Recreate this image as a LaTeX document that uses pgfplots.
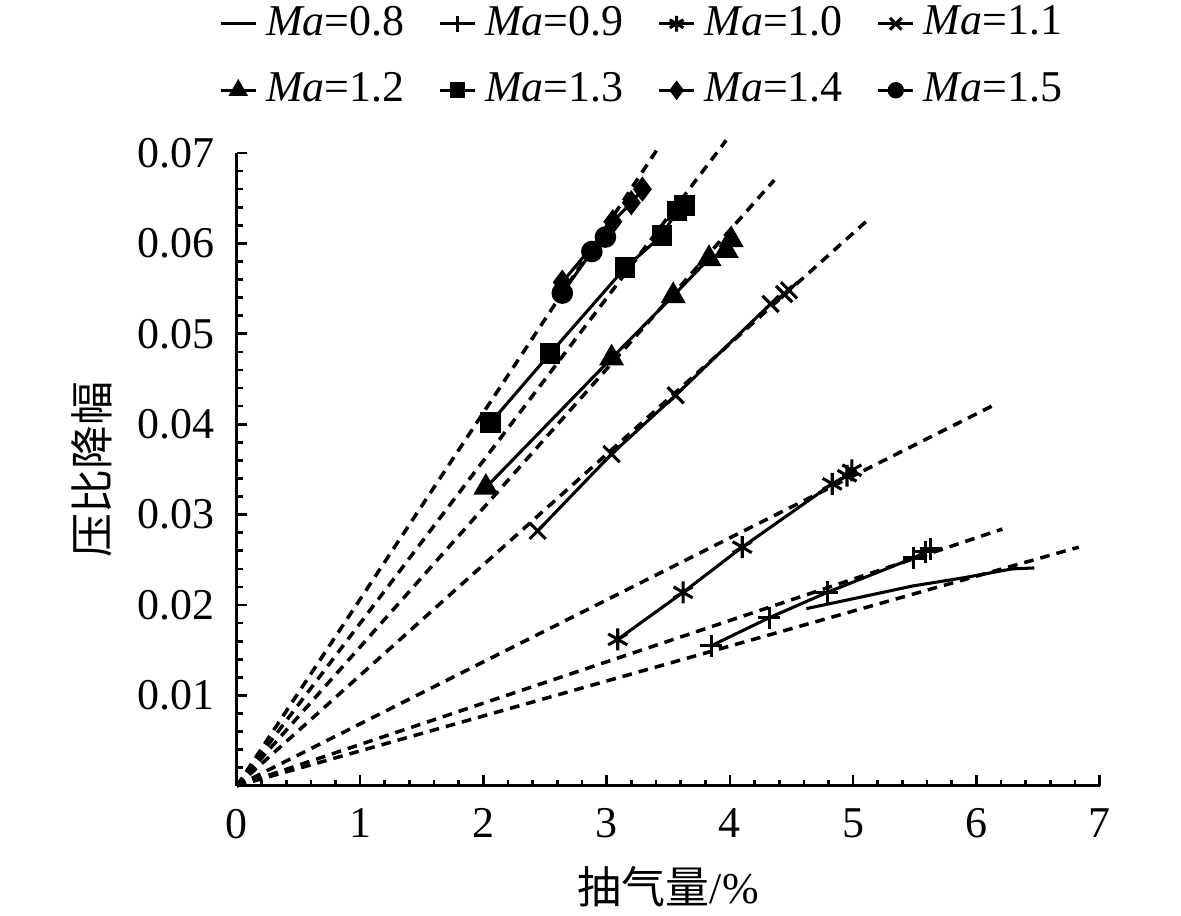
\documentclass[border=0pt]{standalone}
\usepackage{fontspec}
\setmainfont{Liberation Serif}
\newfontfamily\cjk{Noto Sans CJK SC}
\usepackage{pgfplots}
\pgfplotsset{compat=1.18}
\begin{document}
\begin{tikzpicture}
\begin{axis}[
  scale only axis, width=196.3pt, height=144pt,
  xmin=0, xmax=7, ymin=0, ymax=0.07,
  axis lines=left, axis line style={-, line width=0.7pt},
  clip=false,
  scaled y ticks=false,
  xtick={0,1,2,3,4,5,6,7}, minor x tick num=4,
  ytick={0,0.01,0.02,0.03,0.04,0.05,0.06,0.07},
  yticklabels={,0.01,0.02,0.03,0.04,0.05,0.06,0.07},
  minor y tick num=4,
  tick align=inside, major tick length=2.4pt, minor tick length=1.4pt,
  tick style={line width=0.6pt, black},
  /pgf/number format/assume math mode=true,
  xticklabel style={yshift=-1.7pt},
  yticklabel style={xshift=-1.5pt},
  xlabel={{\cjk 抽气量}/\%}, ylabel={\cjk 压比降幅},
  every axis x label/.style={at={(axis description cs:0.5,-0.16)}, anchor=center},
  every axis y label/.style={at={(axis description cs:-0.168,0.5)}, anchor=center, rotate=90},
  legend columns=4,
  legend style={draw=none, fill=none, at={(axis description cs:0.473,1)}, anchor=south, yshift=8pt,
    /tikz/every even column/.append style={column sep=5.7pt}, /tikz/row sep=3pt,
    inner sep=0pt},
  legend cell align=left,
  legend image code/.code={\draw[mark repeat=2,mark phase=2,mark options={scale=0.72,fill=black}] plot coordinates {(0pt,0pt) (4pt,0pt) (8pt,0pt)};},
  every axis plot/.append style={line width=0.7pt, black},
]
% fitted dashed lines
\addplot[dashed, dash pattern=on 2.2pt off 1.6pt, line width=0.8pt, forget plot] coordinates {(0,0) (3.42,0.0706)};
\addplot[dashed, dash pattern=on 2.2pt off 1.6pt, line width=0.8pt, forget plot] coordinates {(0,0) (3.97,0.0714)};
\addplot[dashed, dash pattern=on 2.2pt off 1.6pt, line width=0.8pt, forget plot] coordinates {(0,0) (4.36,0.0670)};
\addplot[dashed, dash pattern=on 2.2pt off 1.6pt, line width=0.8pt, forget plot] coordinates {(0,0) (5.12,0.0626)};
\addplot[dashed, dash pattern=on 2.2pt off 1.6pt, line width=0.8pt, forget plot] coordinates {(0,0) (6.14,0.0421)};
\addplot[dashed, dash pattern=on 2.2pt off 1.6pt, line width=0.8pt, forget plot] coordinates {(0,0) (6.21,0.0284)};
\addplot[dashed, dash pattern=on 2.2pt off 1.6pt, line width=0.8pt, forget plot] coordinates {(0,0) (6.83,0.0264)};
% data
\addplot[no marks] coordinates {(4.62,0.0196) (5.07,0.0209) (5.48,0.0221) (5.89,0.0230) (6.29,0.0240) (6.47,0.0241)};
\addlegendentry{\textit{Ma}=0.8}
\addplot[mark=+, mark size=2.5pt] coordinates {(3.85,0.0155) (4.32,0.0186) (4.79,0.0214) (5.49,0.0252) (5.59,0.0259) (5.63,0.0262)};
\addlegendentry{\textit{Ma}=0.9}
\addplot[mark=asterisk, mark size=2.5pt] coordinates {(3.09,0.0162) (3.62,0.0214) (4.10,0.0264) (4.83,0.0334) (4.95,0.0343) (4.99,0.0349)};
\addlegendentry{\textit{Ma}=1.0}
\addplot[mark=x, mark size=2.6pt] coordinates {(2.44,0.0282) (3.04,0.0367) (3.56,0.0432) (4.33,0.0533) (4.44,0.0544) (4.48,0.0548)};
\addlegendentry{\textit{Ma}=1.1}
\addplot[mark=triangle*, mark size=2.6pt, mark options={fill=black}] coordinates {(2.02,0.0330) (3.04,0.0473) (3.54,0.0542) (3.83,0.0583) (3.97,0.0592) (4.01,0.0604)};
\addlegendentry{\textit{Ma}=1.2}
\addplot[mark=square*, mark size=2.0pt, mark options={fill=black}] coordinates {(2.06,0.0402) (2.54,0.0478) (3.15,0.0573) (3.45,0.0609) (3.57,0.0636) (3.63,0.0642)};
\addlegendentry{\textit{Ma}=1.3}
\addplot[mark=diamond*, mark size=2.3pt, mark options={fill=black}] coordinates {(2.64,0.0557) (3.05,0.0624) (3.20,0.0645) (3.29,0.0660)};
\addlegendentry{\textit{Ma}=1.4}
\addplot[mark=*, mark size=2.1pt, mark options={fill=black}] coordinates {(2.64,0.0545) (2.88,0.0591) (2.99,0.0607)};
\addlegendentry{\textit{Ma}=1.5}
\end{axis}
\pgfresetboundingbox
\path[use as bounding box] ([shift={(-53.9pt,-29.6pt)}]current axis.south west) rectangle ([shift={(214.8pt,178.8pt)}]current axis.south west);
\end{tikzpicture}
\end{document}
